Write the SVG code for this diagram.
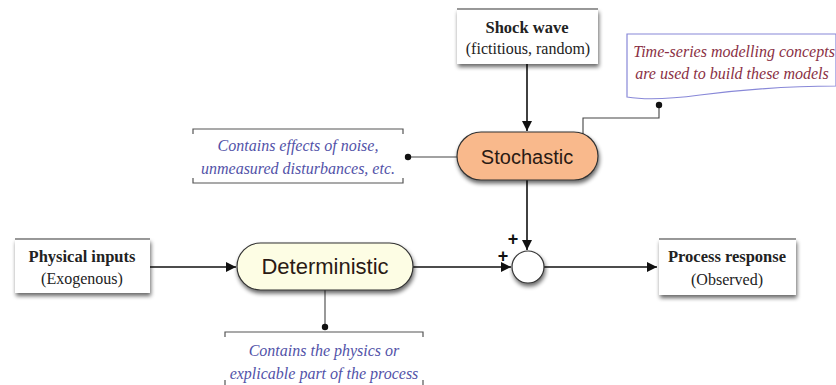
<svg xmlns="http://www.w3.org/2000/svg" width="836" height="385" viewBox="0 0 836 385">
<defs>
<filter id="sh" x="-10%" y="-10%" width="125%" height="140%">
<feGaussianBlur in="SourceAlpha" stdDeviation="2"/>
<feOffset dx="1" dy="3"/>
<feComponentTransfer><feFuncA type="linear" slope="0.6"/></feComponentTransfer>
<feMerge><feMergeNode/><feMergeNode in="SourceGraphic"/></feMerge>
</filter>
<marker id="ah" viewBox="0 0 10 10" refX="10" refY="5" markerWidth="10" markerHeight="10" markerUnits="userSpaceOnUse" orient="auto">
<path d="M0,0 L10,5 L0,10 z" fill="#111"/>
</marker>
</defs>
<style>
.box{fill:#fff;stroke:none}
.top{stroke:#777;stroke-width:1.5}
.bt{font-family:"Liberation Serif",serif;font-size:16.5px;font-weight:bold;fill:#222;text-anchor:middle}
.rt{font-family:"Liberation Serif",serif;font-size:16px;fill:#222;text-anchor:middle}
.pill{stroke:#333;stroke-width:1.2}
.pt{font-family:"Liberation Sans",sans-serif;fill:#2a1a14;text-anchor:middle}
.note{font-family:"Liberation Serif",serif;font-style:italic;font-size:16px;text-anchor:middle}
.blue{fill:#5252a8}
.maroon{fill:#8a3044}
.br{fill:none;stroke:#555;stroke-width:1.2}
.ln{fill:none;stroke:#111;stroke-width:1.6}
.thin{fill:none;stroke:#444;stroke-width:1.1}
.dot{fill:#111}
.plus{font-family:"Liberation Sans",sans-serif;font-size:18px;font-weight:bold;fill:#111;text-anchor:middle}
</style>
<rect width="836" height="385" fill="#fff"/>

<g id="connectors">
<line class="ln" x1="527" y1="64" x2="527" y2="131" marker-end="url(#ah)"/>
<line class="ln" x1="527" y1="180" x2="527" y2="250" marker-end="url(#ah)"/>
<line class="ln" x1="150" y1="267" x2="236" y2="267" marker-end="url(#ah)"/>
<line class="ln" x1="413" y1="267" x2="511" y2="267" marker-end="url(#ah)"/>
<line class="ln" x1="544" y1="267" x2="657" y2="267" marker-end="url(#ah)"/>
<line class="thin" x1="408" y1="157" x2="457" y2="157"/>
<circle class="dot" cx="408" cy="157" r="3.2"/>
<polyline class="thin" points="583,134 583,118 659,118 659,105"/>
<circle class="dot" cx="659" cy="105" r="3.2"/>
<line class="thin" x1="325" y1="290" x2="325" y2="327"/>
<circle class="dot" cx="325" cy="327" r="3.2"/>
<text class="plus" x="513" y="245">+</text>
<text class="plus" x="503" y="262">+</text>
</g>

<g id="shock">
<rect class="box" x="457" y="9" width="141" height="55" filter="url(#sh)"/>
<line class="top" x1="457" y1="9" x2="598" y2="9"/>
<text class="bt" x="527" y="33">Shock wave</text>
<text class="rt" x="528" y="54">(fictitious, random)</text>
</g>

<g id="timeseries">
<path d="M627,34 L836,34 L836,86 C790,86 740,90 700,95 C670,99 645,100 627,97 Z" fill="#fff" stroke="#8888d8" stroke-width="1.2"/>
<text class="note maroon" x="734" y="57">Time-series modelling concepts</text>
<text class="note maroon" x="732" y="79">are used to build these models</text>
</g>

<g id="noise">
<path class="br" d="M193,134 L193,129 L403,129 L403,134"/>
<path class="br" d="M193,178 L193,183 L403,183 L403,178"/>
<text class="note blue" x="298" y="151">Contains effects of noise,</text>
<text class="note blue" x="298" y="174">unmeasured disturbances, etc.</text>
</g>

<g id="stochastic">
<rect class="pill" x="457" y="132" width="141" height="48" rx="24" fill="#f9b98c" filter="url(#sh)"/>
<text class="pt" x="527" y="164" font-size="20">Stochastic</text>
</g>

<g id="physical">
<rect class="box" x="15" y="239" width="135" height="54" filter="url(#sh)"/>
<line class="top" x1="15" y1="239" x2="150" y2="239"/>
<text class="bt" x="82" y="262">Physical inputs</text>
<text class="rt" x="82" y="284">(Exogenous)</text>
</g>

<g id="deterministic">
<rect class="pill" x="237" y="243" width="176" height="47" rx="23.5" fill="#fdfde4" filter="url(#sh)"/>
<text class="pt" x="325" y="274" font-size="22">Deterministic</text>
</g>

<g id="sum">
<circle cx="528" cy="267" r="16" fill="#fff" stroke="#333" stroke-width="1.2" filter="url(#sh)"/>
</g>

<g id="response">
<rect class="box" x="659" y="239" width="137" height="56" filter="url(#sh)"/>
<line class="top" x1="659" y1="239" x2="796" y2="239"/>
<text class="bt" x="727" y="262">Process response</text>
<text class="rt" x="727" y="285">(Observed)</text>
</g>

<g id="physics">
<path class="br" d="M225,337 L225,332 L423,332 L423,337"/>
<path class="br" d="M225,380 L225,385 M423,380 L423,385"/>
<text class="note blue" x="324" y="356">Contains the physics or</text>
<text class="note blue" x="324" y="379">explicable part of the process</text>
</g>
</svg>
